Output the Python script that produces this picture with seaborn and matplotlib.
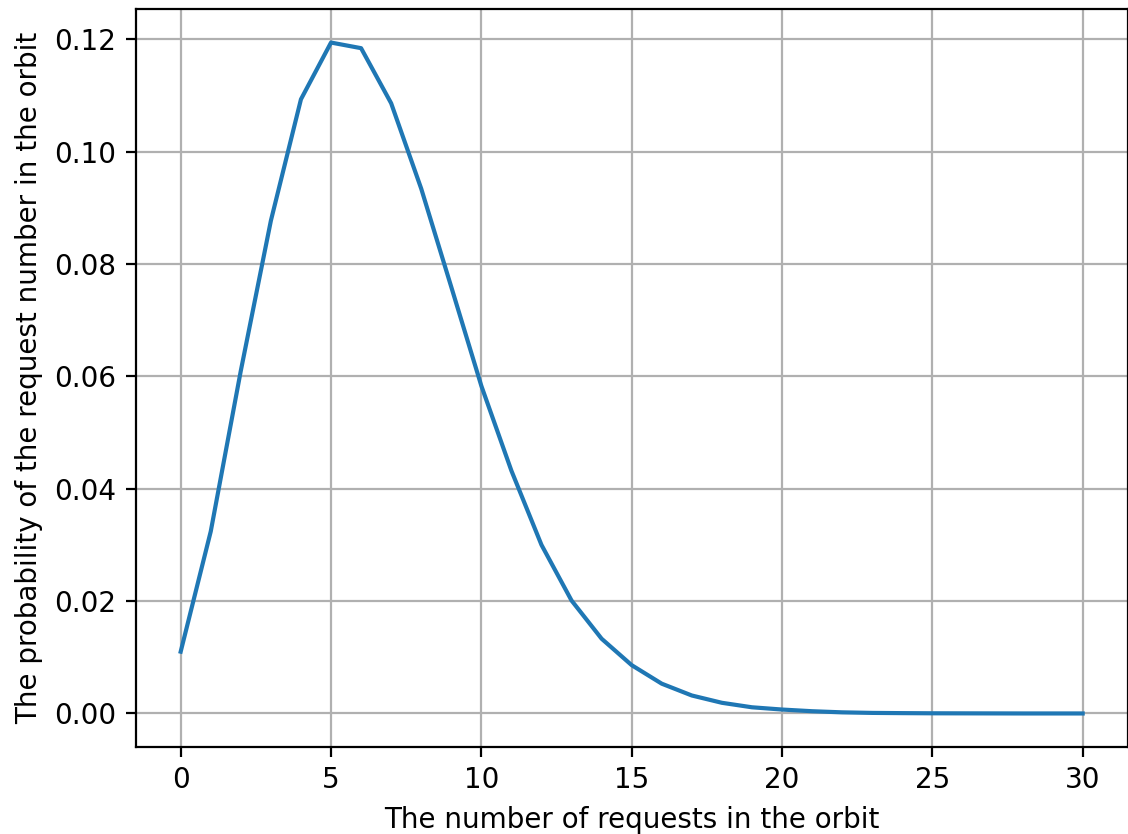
import numpy as np
import pandas as pd
import matplotlib
matplotlib.use("Agg")
import matplotlib.pyplot as plt
import seaborn as sns

# --------------------------
# Data
# --------------------------
n_requests = list(range(0, 31))
probability = [
    0.0110, 0.0324, 0.0610, 0.0877, 0.1093, 0.1194, 0.1184, 0.1086,
    0.0934, 0.0759, 0.0583, 0.0432, 0.0300, 0.0201, 0.0133, 0.0086,
    0.0053, 0.0032, 0.0019, 0.0011, 0.0007, 0.0004, 0.0002, 0.0001,
    0.00006, 0.00003, 0.00002, 0.00001, 0.0, 0.0, 0.0,
]

df = pd.DataFrame({"n": n_requests, "p": probability})

# --------------------------
# Plot
# --------------------------
fig = plt.figure(figsize=(5.64, 4.17), dpi=200)
ax = fig.add_axes([0.1202, 0.1043, 0.8796, 0.8849])
sns.lineplot(data=df, x="n", y="p", ax=ax, color="#1f77b4", linewidth=1.5)
ax.grid(True)
ax.set_xlabel("The number of requests in the orbit")
ax.set_ylabel("The probability of the request number in the orbit")

fig.savefig("out.png", dpi=200)
